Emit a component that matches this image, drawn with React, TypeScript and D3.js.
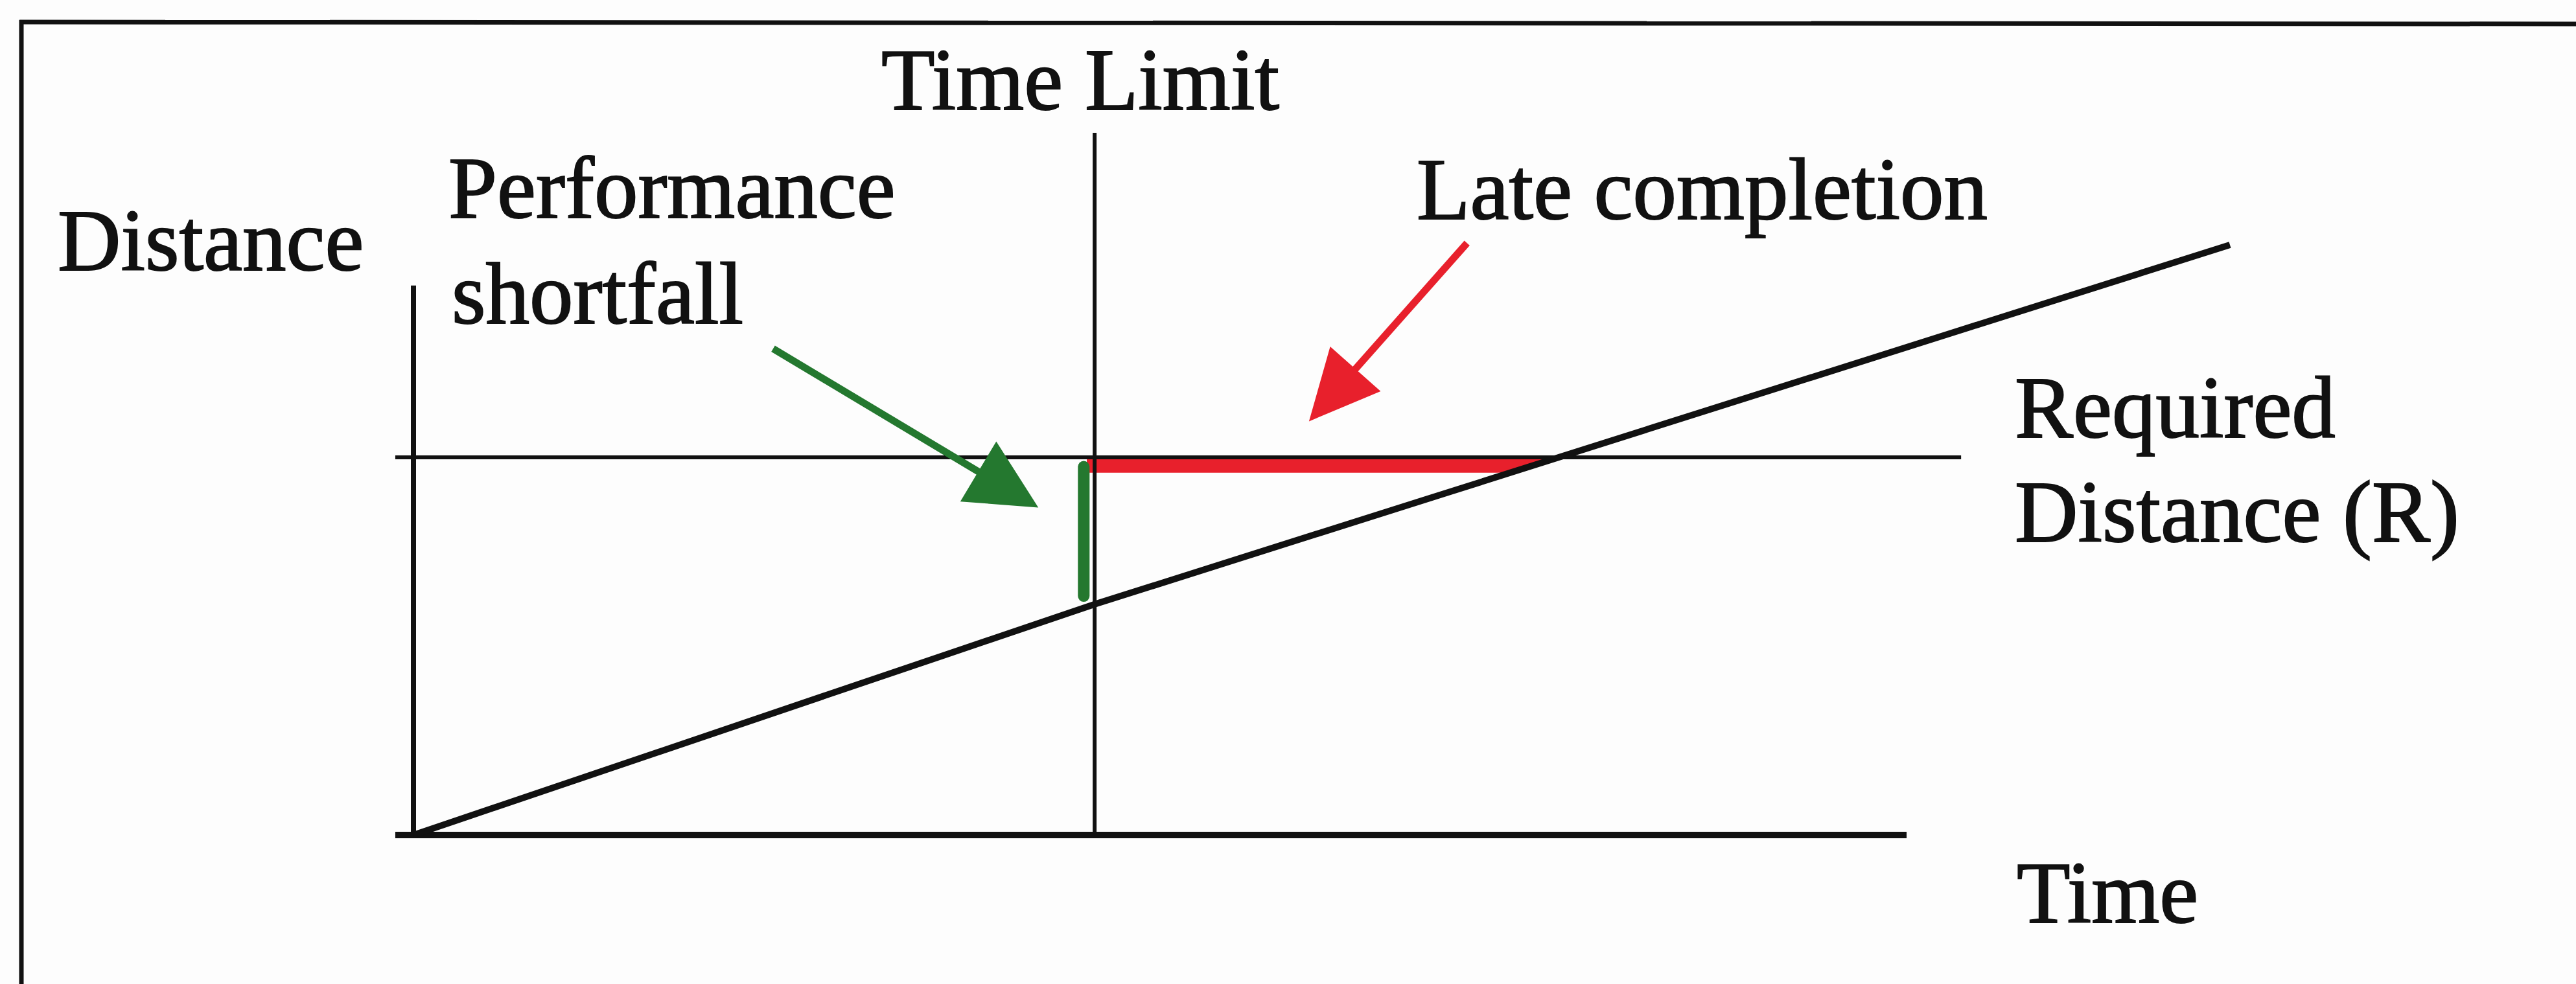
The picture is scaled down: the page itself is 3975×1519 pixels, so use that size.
import React, { useEffect } from "react";
import * as d3 from "d3";

// ---- Data (conceptual units: time 0..100, distance 0..100) ----
const performanceLine: [number, number][] = [
  [0, 0],
  [37.5, 39.1],
  [100, 100],
];
const requiredDistance = 64.0; // R
const timeLimit = 37.5;
const xAxisExtent: [number, number] = [-1.0, 82.2];
const yAxisExtent: [number, number] = [0, 93.1];
const requiredLineExtent: [number, number] = [-1.0, 85.2];
const timeLimitExtent: [number, number] = [0, 119];
const lateBand: [number, number] = [61.4, 63.7]; // distance band of the red bar
const lateBandStart = 37.07;
const shortfallX = 36.9;
const shortfallRange: [number, number] = [62.4, 40.5];
const greenArrow: [number, number][] = [
  [19.8, 82.4],
  [34.4, 55.5],
];
const redArrow: [number, number][] = [
  [58.0, 100.3],
  [49.3, 70.1],
];

const W = 3975;
const H = 1519;

const x = d3.scaleLinear().domain([0, 100]).range([638, 3441]);
const y = d3.scaleLinear().domain([0, 100]).range([1289, 378]);

const GREEN = "#24782f";
const RED = "#e8202c";
const INK = "#111";

function arrowPaths(pts: [number, number][], headLen: number, headW: number) {
  const [x0, y0] = [x(pts[0][0]), y(pts[0][1])];
  const [x1, y1] = [x(pts[1][0]), y(pts[1][1])];
  const dx = x1 - x0;
  const dy = y1 - y0;
  const len = Math.hypot(dx, dy);
  const ux = dx / len;
  const uy = dy / len;
  const bx = x1 - ux * headLen;
  const by = y1 - uy * headLen;
  const px = -uy;
  const py = ux;
  const line = d3.line()([
    [x0, y0],
    [bx + ux * 4, by + uy * 4],
  ]);
  const head = d3.line()([
    [x1, y1],
    [bx + px * headW / 2, by + py * headW / 2],
    [bx - px * headW / 2, by - py * headW / 2],
  ]) + "Z";
  return { line: line as string, head };
}

export default function App() {
  useEffect(() => {
    document.body.style.margin = "0";
    document.body.style.background = "#fff";
  }, []);

  const lineGen = d3
    .line<[number, number]>()
    .x((d) => x(d[0]))
    .y((d) => y(d[1]));

  // intersection of the performance line's upper segment with a distance level
  const [p1, p2] = [performanceLine[1], performanceLine[2]];
  const diagXAt = (dist: number) => p1[0] + ((dist - p1[1]) * (p2[0] - p1[0])) / (p2[1] - p1[1]);
  const band: [number, number][] = [
    [lateBandStart, lateBand[1]],
    [diagXAt(lateBand[1]), lateBand[1]],
    [diagXAt(lateBand[0]), lateBand[0]],
    [lateBandStart, lateBand[0]],
  ];

  const g = arrowPaths(greenArrow, 108, 108);
  const r = arrowPaths(redArrow, 108, 104);

  const font = "'Liberation Serif', 'Times New Roman', serif";
  const fs = 135;

  return (
    <svg
      width={W}
      height={H}
      viewBox={`0 0 ${W} ${H}`}
      style={{ position: "absolute", left: 0, top: 0, display: "block", background: "#fff" }}
    >
      <rect x={0} y={0} width={W} height={H} fill="#fdfdfd" />
      {/* frame */}
      <line x1={30} y1={34} x2={W} y2={37} stroke={INK} strokeWidth={7} />
      <line x1={33} y1={31} x2={33} y2={H} stroke={INK} strokeWidth={7} />

      {/* red late-completion band */}
      <path d={(lineGen(band) as string) + "Z"} fill={RED} />

      {/* required distance line */}
      <path
        d={lineGen([
          [requiredLineExtent[0], requiredDistance],
          [requiredLineExtent[1], requiredDistance],
        ]) as string}
        stroke={INK}
        strokeWidth={6}
        fill="none"
      />
      {/* time limit */}
      <path
        d={lineGen([
          [timeLimit, timeLimitExtent[0]],
          [timeLimit, timeLimitExtent[1]],
        ]) as string}
        stroke={INK}
        strokeWidth={6}
        fill="none"
      />
      {/* axes */}
      <path
        d={lineGen([
          [0, yAxisExtent[0]],
          [0, yAxisExtent[1]],
        ]) as string}
        stroke={INK}
        strokeWidth={8}
        fill="none"
      />
      <path
        d={lineGen([
          [xAxisExtent[0], 0],
          [xAxisExtent[1], 0],
        ]) as string}
        stroke={INK}
        strokeWidth={10}
        fill="none"
      />
      {/* actual performance */}
      <path
        d={lineGen(performanceLine) as string}
        stroke={INK}
        strokeWidth={10}
        strokeLinejoin="round"
        fill="none"
      />

      {/* shortfall */}
      <path
        d={lineGen([
          [shortfallX, shortfallRange[0]],
          [shortfallX, shortfallRange[1]],
        ]) as string}
        stroke={GREEN}
        strokeWidth={18}
        strokeLinecap="round"
        fill="none"
      />

      {/* arrows */}
      <path d={g.line} stroke={GREEN} strokeWidth={11} fill="none" />
      <path d={g.head} fill={GREEN} />
      <path d={r.line} stroke={RED} strokeWidth={11} fill="none" />
      <path d={r.head} fill={RED} />

      {/* labels */}
      <g fontFamily={font} fontSize={fs} fill={INK} stroke={INK} strokeWidth={2}>
        <text x={1360} y={169}>Time Limit</text>
        <text x={89} y={417}>Distance</text>
        <text x={692} y={336}>Performance</text>
        <text x={697} y={499}>shortfall</text>
        <text x={2186} y={338}>Late completion</text>
        <text x={3109} y={675}>Required</text>
        <text x={3109} y={836}>Distance (R)</text>
        <text x={3112} y={1424}>Time</text>
      </g>
    </svg>
  );
}
